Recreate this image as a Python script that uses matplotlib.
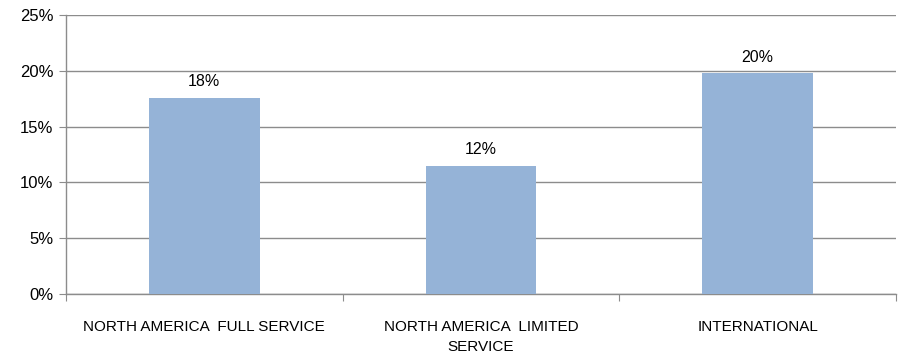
import matplotlib.pyplot as plt
from matplotlib.ticker import FuncFormatter

categories = ["NORTH AMERICA  FULL SERVICE", "NORTH AMERICA  LIMITED\nSERVICE", "INTERNATIONAL"]
values = [17.6, 11.5, 19.8]
labels = ["18%", "12%", "20%"]

BAR_COLOR = "#95B3D7"
GRID_COLOR = "#8C8C8C"

plt.rcParams["font.family"] = ["Liberation Sans", "DejaVu Sans"]

fig = plt.figure(figsize=(8.99, 3.6), dpi=100)
ax = fig.add_axes([0.0734, 0.1833, 0.9233, 0.775])

x = list(range(len(categories)))
ax.bar(x, values, width=0.4, color=BAR_COLOR, zorder=3)
for xi, v, lab in zip(x, values, labels):
    ax.annotate(lab, (xi, v), xytext=(0, 6), textcoords="offset points",
                ha="center", va="bottom", fontsize=11.5, color="#000000")

ax.set_xlim(-0.5, len(categories) - 0.5)
ax.set_ylim(0, 25)
ax.set_yticks([0, 5, 10, 15, 20, 25])
ax.yaxis.set_major_formatter(FuncFormatter(lambda v, p: f"{v:.0f}%"))
ax.yaxis.grid(True, color=GRID_COLOR, linewidth=1, zorder=0)

ax.set_xticks([i - 0.5 for i in range(len(categories) + 1)], minor=False)
ax.set_xticklabels([])
ax.set_xticks(x, minor=True)
ax.set_xticklabels(categories, minor=True, fontsize=11, linespacing=1.55)
ax.tick_params(axis="x", which="minor", length=0, pad=19)
ax.tick_params(axis="x", which="major", length=5, color=GRID_COLOR, direction="out")
ax.tick_params(axis="y", length=5, color=GRID_COLOR, labelsize=12, pad=4)

for s in ["top", "right"]:
    ax.spines[s].set_visible(False)
for s in ["left", "bottom"]:
    ax.spines[s].set_color(GRID_COLOR)
    ax.spines[s].set_linewidth(1)

fig.savefig("out.png", dpi=100)
